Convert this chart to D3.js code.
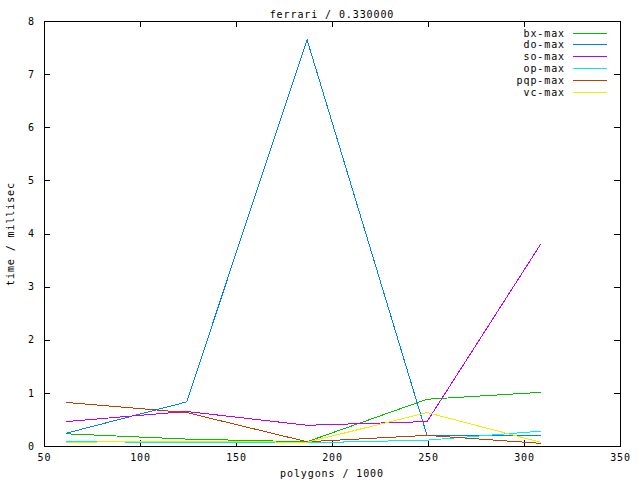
<!DOCTYPE html>
<html>
<head>
<meta charset="utf-8">
<script src="https://cdn.jsdelivr.net/npm/d3@7"></script>
<style>
  body { margin: 0; background: #fff; }
  text { font-family: "DejaVu Sans Mono", monospace; font-size: 10px; letter-spacing: 0.9px; fill: #000; }
</style>
</head>
<body>
<div id="chart"></div>
<script>
// polygons / 1000
const polygons = [61.5, 124.3, 187, 249.5, 308.7];
const seriesNames = ["bx-max", "do-max", "so-max", "op-max", "pqp-max", "vc-max"];
const seriesColors = ["#00c000", "#0080ff", "#c000ff", "#00eeee", "#c04000", "#eeee00"];
// time / millisec
const bxMax  = [0.23, 0.13, 0.08, 0.88, 1.01];
const doMax  = [0.24, 0.83, 7.65, 0.20, 0.20];
const soMax  = [0.46, 0.65, 0.39, 0.46, 3.80];
const opMax  = [0.09, 0.06, 0.06, 0.11, 0.28];
const pqpMax = [0.82, 0.63, 0.08, 0.20, 0.05];
const vcMax  = [0.07, 0.09, 0.07, 0.63, 0.07];
const xTicks = [50, 100, 150, 200, 250, 300, 350];
const yTicks = [0, 1, 2, 3, 4, 5, 6, 7, 8];

const allSeries = [bxMax, doMax, soMax, opMax, pqpMax, vcMax];

const svgWidth = 640, svgHeight = 480;
const margin = {top: 21, right: 20, bottom: 34, left: 44};
const chartWidth = svgWidth - margin.left - margin.right;
const chartHeight = svgHeight - margin.top - margin.bottom;

const svg = d3.select('#chart')
    .append('svg')
    .attr('width', svgWidth)
    .attr('height', svgHeight);

const g = svg.append('g')
    .attr('transform', `translate(${margin.left}, ${margin.top})`);

const xScale = d3.scaleLinear().domain([50, 350]).range([0, chartWidth]);
const yScale = d3.scaleLinear().domain([0, 8]).range([chartHeight, 0]);

// gnuplot style: ticks inside, mirrored on all four sides
const tickLen = 6;
function styleAxis(sel) {
    sel.select('.domain').remove();
    sel.selectAll('line').attr('stroke', '#000').attr('shape-rendering', 'crispEdges');
    sel.selectAll('text')
        .style('font-size', '10px')
        .style('font-family', '"DejaVu Sans Mono", monospace')
        .style('letter-spacing', '0.9px');
}

g.append('g')
    .attr('transform', `translate(0, ${chartHeight})`)
    .call(d3.axisBottom(xScale).tickValues(xTicks).tickSizeInner(-tickLen).tickSizeOuter(0).tickPadding(8))
    .call(styleAxis);

g.append('g')
    .call(d3.axisTop(xScale).tickValues(xTicks).tickSizeInner(-tickLen).tickSizeOuter(0).tickFormat(''))
    .call(styleAxis);

g.append('g')
    .call(d3.axisLeft(yScale).tickValues(yTicks).tickSizeInner(-tickLen).tickSizeOuter(0).tickPadding(9))
    .call(styleAxis);

g.append('g')
    .attr('transform', `translate(${chartWidth}, 0)`)
    .call(d3.axisRight(yScale).tickValues(yTicks).tickSizeInner(-tickLen).tickSizeOuter(0).tickFormat(''))
    .call(styleAxis);

// border
g.append('rect')
    .attr('x', 0).attr('y', 0)
    .attr('width', chartWidth).attr('height', chartHeight)
    .attr('fill', 'none').attr('stroke', '#000')
    .attr('shape-rendering', 'crispEdges');

// lines
const line = d3.line()
    .x((d, i) => xScale(polygons[i]))
    .y(d => yScale(d));

g.selectAll('path.series')
    .data(allSeries)
    .enter()
    .append('path')
    .attr('class', 'series')
    .attr('d', d => line(d))
    .attr('fill', 'none')
    .attr('stroke', (d, i) => seriesColors[i])
    .attr('stroke-width', 1)
    .attr('shape-rendering', 'crispEdges');

// legend
const legend = svg.append('g');
seriesNames.forEach((name, i) => {
    const y = 33 + i * 11.9;
    legend.append('text')
        .attr('x', 565).attr('y', y + 3.5)
        .attr('text-anchor', 'end')
        .text(name);
    legend.append('line')
        .attr('x1', 573).attr('x2', 607)
        .attr('y1', y).attr('y2', y)
        .attr('stroke', seriesColors[i])
        .attr('shape-rendering', 'crispEdges');
});

// titles
svg.append('text')
    .attr('x', 332).attr('y', 18)
    .attr('text-anchor', 'middle')
    .text('ferrari / 0.330000');

svg.append('text')
    .attr('x', 332).attr('y', 477)
    .attr('text-anchor', 'middle')
    .text('polygons / 1000');

svg.append('text')
    .attr('transform', 'translate(14, 234) rotate(-90)')
    .attr('text-anchor', 'middle')
    .text('time / millisec');
</script>
</body>
</html>
